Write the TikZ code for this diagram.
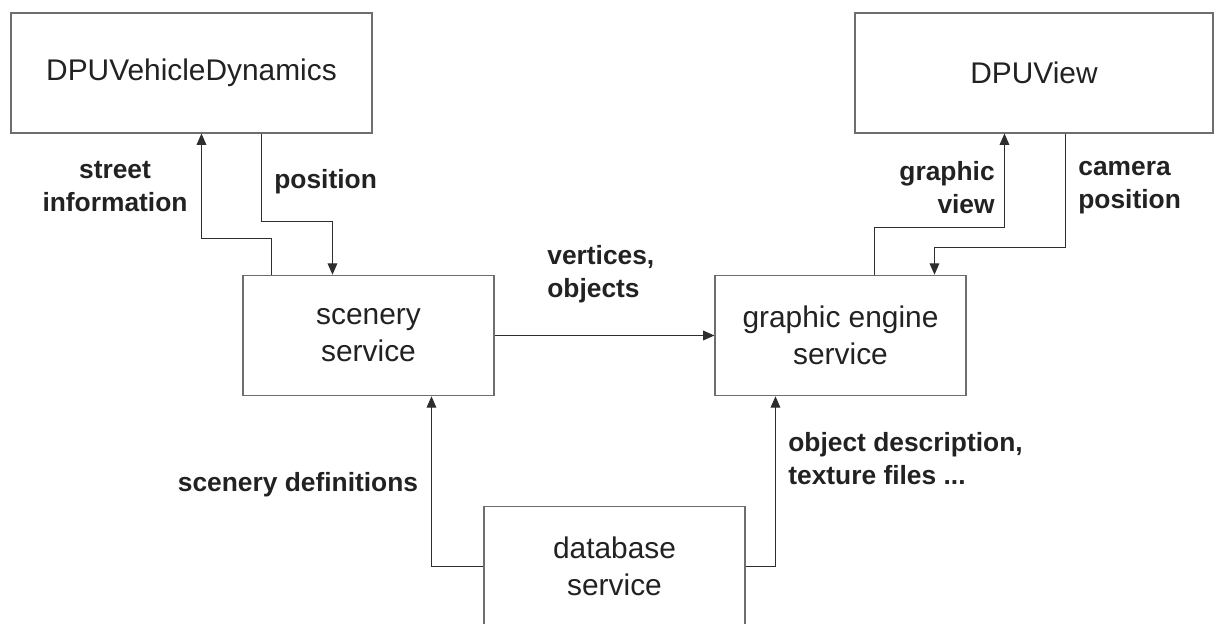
\documentclass[tikz,border=0pt]{standalone}
\usepackage{fontspec}
\setmainfont{Liberation Sans}
\usepackage{tikz}
\usepackage{xcolor}
\usetikzlibrary{arrows.meta,positioning,calc}
\definecolor{BoxLine}{HTML}{6E6E6E}
\definecolor{FlowLine}{HTML}{2E2E2E}
\definecolor{InkDark}{HTML}{222222}
\tikzset{
    svcblock/.style={
        draw=BoxLine, line width=0.6pt, fill=white,
        minimum width=#1, minimum height=2.41cm,
        align=center, sharp corners, inner sep=2pt,
        text=InkDark, font=\fontsize{17}{21}\selectfont
    },
    flowarrow/.style={
        -{Triangle[length=6.5pt,width=5.5pt]}, line width=0.75pt, color=FlowLine
    },
    flowlabel/.style={
        font=\fontsize{15}{18.8}\selectfont\bfseries, text=InkDark, inner sep=0pt
    },
}
\begin{document}
\begin{tikzpicture}
    \useasboundingbox (0,0) rectangle (24.32,-12.46);

    % Service blocks
    \node[svcblock=7.22cm, minimum height=2.40cm] (dyn) at (3.83,-1.46) {DPUVehicleDynamics};
    \node[svcblock=7.16cm, minimum height=2.40cm] (view) at (20.68,-1.46) {DPUView};
    \node[svcblock=5.02cm] (scen) at (7.37,-6.71) {scenery\\service};
    \node[svcblock=5.02cm] (engine) at (16.81,-6.71) {graphic engine\\service};
    \node[svcblock=5.22cm] (db) at (12.29,-11.33) {database\\service};

    % Vehicle dynamics <-> scenery
    \draw[flowarrow] ($(scen.north west)+(0.58,0)$) -- ++(0,0.72) -| ($(dyn.south west)+(3.82,0)$);
    \draw[flowarrow] ($(dyn.south west)+(5.02,0)$) -- ++(0,-1.76) -| ($(scen.north west)+(1.80,0)$);
    \node[flowlabel, align=center] (lstreet) at (2.30,-3.73) {street\\information};
    \node[flowlabel, anchor=west] (lpos) at (5.48,-3.64) {position};

    % Scenery -> graphic engine
    \draw[flowarrow] (scen.east) -- (engine.west);
    \node[flowlabel, anchor=west, align=left] (lvert) at (10.94,-5.48) {vertices,\\objects};

    % View <-> graphic engine
    \draw[flowarrow] ($(engine.north west)+(3.20,0)$) -- ++(0,0.94) -| ($(view.south west)+(3.00,0)$);
    \draw[flowarrow] ($(view.south west)+(4.22,0)$) -- ++(0,-2.28) -| ($(engine.north west)+(4.40,0)$);
    \node[flowlabel, anchor=east, align=right] (lgview) at (19.90,-3.75) {graphic\\view};
    \node[flowlabel, anchor=west, align=left] (lcam) at (21.56,-3.75) {camera\\position};

    % Database feeds
    \draw[flowarrow] (db.west) -| ($(scen.south west)+(3.78,0)$);
    \draw[flowarrow] (db.east) -| ($(engine.south west)+(1.22,0)$);
    \node[flowlabel] (ldefs) at (5.96,-9.70) {scenery definitions};
    \node[flowlabel, anchor=west, align=left] (lobj) at (15.76,-9.18) {object description,\\texture files ...};
\end{tikzpicture}
\end{document}
